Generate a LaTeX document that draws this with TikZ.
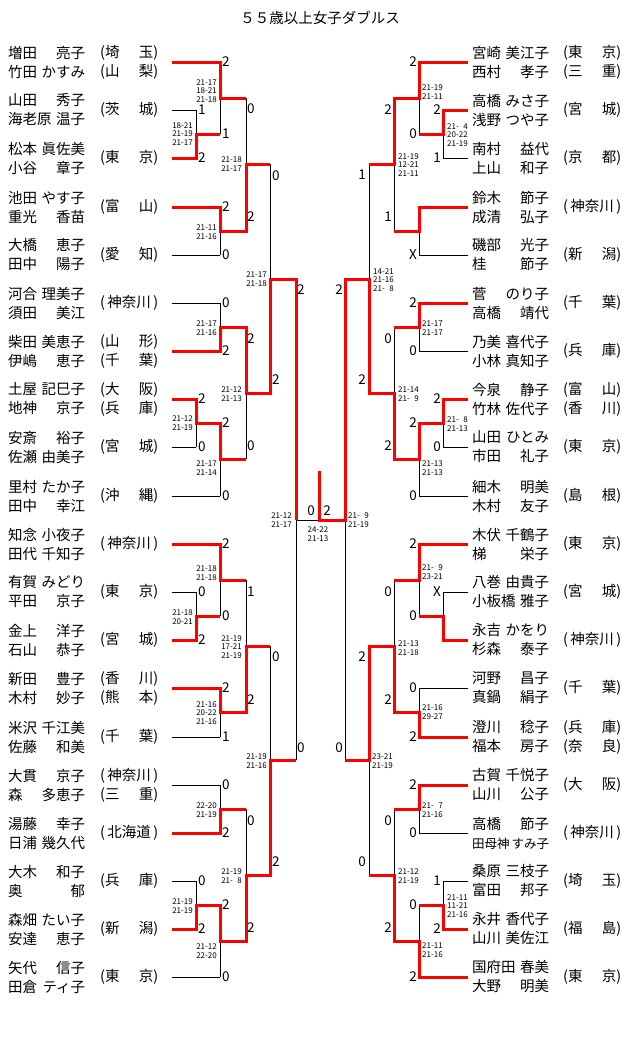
\documentclass[tikz,border=0pt]{standalone}
\usepackage{fontspec}
\setmainfont{Noto Sans CJK JP}
\newcommand\nmf[2]{\makebox[77pt]{#1\hfill#2}}
\newcommand\pff[2]{\makebox[58pt]{(#1\hfill#2)}}
\newcommand\pfw[1]{\makebox[58pt]{(\hfill#1\hfill)}}
\begin{document}
\begin{tikzpicture}[x=1pt, y=-1pt,
	lose/.style={line width=0.8pt},
	win/.style={red, line width=3pt},
	team/.style={font=\fontsize{14.5}{19}\selectfont, align=left, inner sep=0pt, anchor=west},
	sc/.style={font=\fontsize{13.5}{13.5}\selectfont, inner sep=0pt},
	gm/.style={font=\fontsize{8}{8.6}\selectfont, align=left, inner sep=0pt}]
	\useasboundingbox (0,0) rectangle (640,1061);
	\node[font=\fontsize{14.5}{14.5}\selectfont, inner sep=0pt] (title) at (320,18) {５５歳以上女子ダブルス};
	% left teams
	\node[team] (ln1) at (8,62) {\nmf{増田}{亮子}\\\nmf{竹田}{かすみ}};
	\node[team] (lp1) at (100,62) {\pff{埼}{玉}\\\pff{山}{梨}};
	\node[team] (ln2) at (8,110) {\nmf{山田}{秀子}\\\nmf{海老原}{温子}};
	\node[team] (lp2) at (100,110) {\pff{茨}{城}};
	\node[team] (ln3) at (8,158) {\nmf{松本}{眞佐美}\\\nmf{小谷}{章子}};
	\node[team] (lp3) at (100,158) {\pff{東}{京}};
	\node[team] (ln4) at (8,207) {\nmf{池田}{やす子}\\\nmf{重光}{香苗}};
	\node[team] (lp4) at (100,207) {\pff{富}{山}};
	\node[team] (ln5) at (8,255) {\nmf{大橋}{恵子}\\\nmf{田中}{陽子}};
	\node[team] (lp5) at (100,255) {\pff{愛}{知}};
	\node[team] (ln6) at (8,303) {\nmf{河合}{理美子}\\\nmf{須田}{美江}};
	\node[team] (lp6) at (100,303) {\pfw{神奈川}};
	\node[team] (ln7) at (8,351) {\nmf{柴田}{美恵子}\\\nmf{伊嶋}{恵子}};
	\node[team] (lp7) at (100,351) {\pff{山}{形}\\\pff{千}{葉}};
	\node[team] (ln8) at (8,399) {\nmf{土屋}{記巳子}\\\nmf{地神}{京子}};
	\node[team] (lp8) at (100,399) {\pff{大}{阪}\\\pff{兵}{庫}};
	\node[team] (ln9) at (8,447) {\nmf{安斎}{裕子}\\\nmf{佐瀬}{由美子}};
	\node[team] (lp9) at (100,447) {\pff{宮}{城}};
	\node[team] (ln10) at (8,496) {\nmf{里村}{たか子}\\\nmf{田中}{幸江}};
	\node[team] (lp10) at (100,496) {\pff{沖}{縄}};
	\node[team] (ln11) at (8,544) {\nmf{知念}{小夜子}\\\nmf{田代}{千知子}};
	\node[team] (lp11) at (100,544) {\pfw{神奈川}};
	\node[team] (ln12) at (8,592) {\nmf{有賀}{みどり}\\\nmf{平田}{京子}};
	\node[team] (lp12) at (100,592) {\pff{東}{京}};
	\node[team] (ln13) at (8,640) {\nmf{金上}{洋子}\\\nmf{石山}{恭子}};
	\node[team] (lp13) at (100,640) {\pff{宮}{城}};
	\node[team] (ln14) at (8,688) {\nmf{新田}{豊子}\\\nmf{木村}{妙子}};
	\node[team] (lp14) at (100,688) {\pff{香}{川}\\\pff{熊}{本}};
	\node[team] (ln15) at (8,737) {\nmf{米沢}{千江美}\\\nmf{佐藤}{和美}};
	\node[team] (lp15) at (100,737) {\pff{千}{葉}};
	\node[team] (ln16) at (8,785) {\nmf{大貫}{京子}\\\nmf{森}{多恵子}};
	\node[team] (lp16) at (100,785) {\pfw{神奈川}\\\pff{三}{重}};
	\node[team] (ln17) at (8,833) {\nmf{湯藤}{幸子}\\\nmf{日浦}{幾久代}};
	\node[team] (lp17) at (100,833) {\pfw{北海道}};
	\node[team] (ln18) at (8,881) {\nmf{大木}{和子}\\\nmf{奥}{郁}};
	\node[team] (lp18) at (100,881) {\pff{兵}{庫}};
	\node[team] (ln19) at (8,929) {\nmf{森畑}{たい子}\\\nmf{安達}{恵子}};
	\node[team] (lp19) at (100,929) {\pff{新}{潟}};
	\node[team] (ln20) at (8,977) {\nmf{矢代}{信子}\\\nmf{田倉}{ティ子}};
	\node[team] (lp20) at (100,977) {\pff{東}{京}};
	% right teams
	\node[team] (rn1) at (472,62) {\nmf{宮崎}{美江子}\\\nmf{西村}{孝子}};
	\node[team] (rp1) at (563,62) {\pff{東}{京}\\\pff{三}{重}};
	\node[team] (rn2) at (472,110) {\nmf{高橋}{みさ子}\\\nmf{浅野}{つや子}};
	\node[team] (rp2) at (563,110) {\pff{宮}{城}};
	\node[team] (rn3) at (472,158) {\nmf{南村}{益代}\\\nmf{上山}{和子}};
	\node[team] (rp3) at (563,158) {\pff{京}{都}};
	\node[team] (rn4) at (472,207) {\nmf{鈴木}{節子}\\\nmf{成清}{弘子}};
	\node[team] (rp4) at (563,207) {\pfw{神奈川}};
	\node[team] (rn5) at (472,255) {\nmf{磯部}{光子}\\\nmf{桂}{節子}};
	\node[team] (rp5) at (563,255) {\pff{新}{潟}};
	\node[team] (rn6) at (472,303) {\nmf{菅}{のり子}\\\nmf{高橋}{靖代}};
	\node[team] (rp6) at (563,303) {\pff{千}{葉}};
	\node[team] (rn7) at (472,351) {\nmf{乃美}{喜代子}\\\nmf{小林}{真知子}};
	\node[team] (rp7) at (563,351) {\pff{兵}{庫}};
	\node[team] (rn8) at (472,399) {\nmf{今泉}{静子}\\\nmf{竹林}{佐代子}};
	\node[team] (rp8) at (563,399) {\pff{富}{山}\\\pff{香}{川}};
	\node[team] (rn9) at (472,447) {\nmf{山田}{ひとみ}\\\nmf{市田}{礼子}};
	\node[team] (rp9) at (563,447) {\pff{東}{京}};
	\node[team] (rn10) at (472,496) {\nmf{細木}{明美}\\\nmf{木村}{友子}};
	\node[team] (rp10) at (563,496) {\pff{島}{根}};
	\node[team] (rn11) at (472,544) {\nmf{木伏}{千鶴子}\\\nmf{梯}{栄子}};
	\node[team] (rp11) at (563,544) {\pff{東}{京}};
	\node[team] (rn12) at (472,592) {\nmf{八巻}{由貴子}\\\nmf{小板橋}{雅子}};
	\node[team] (rp12) at (563,592) {\pff{宮}{城}};
	\node[team] (rn13) at (472,640) {\nmf{永吉}{かをり}\\\nmf{杉森}{泰子}};
	\node[team] (rp13) at (563,640) {\pfw{神奈川}};
	\node[team] (rn14) at (472,688) {\nmf{河野}{昌子}\\\nmf{真鍋}{絹子}};
	\node[team] (rp14) at (563,688) {\pff{千}{葉}};
	\node[team] (rn15) at (472,737) {\nmf{澄川}{稔子}\\\nmf{福本}{房子}};
	\node[team] (rp15) at (563,737) {\pff{兵}{庫}\\\pff{奈}{良}};
	\node[team] (rn16) at (472,785) {\nmf{古賀}{千悦子}\\\nmf{山川}{公子}};
	\node[team] (rp16) at (563,785) {\pff{大}{阪}};
	\node[team] (rn17) at (472,833) {\nmf{高橋}{節子}\\{\fontsize{12.5}{19}\selectfont\nmf{田母神}{すみ子}}};
	\node[team] (rp17) at (563,833) {\pfw{神奈川}};
	\node[team] (rn18) at (472,881) {\nmf{桑原}{三枝子}\\\nmf{富田}{邦子}};
	\node[team] (rp18) at (563,881) {\pff{埼}{玉}};
	\node[team] (rn19) at (472,929) {\nmf{永井}{香代子}\\\nmf{山川}{美佐江}};
	\node[team] (rp19) at (563,929) {\pff{福}{島}};
	\node[team] (rn20) at (472,977) {\nmf{国府田}{春美}\\\nmf{大野}{明美}};
	\node[team] (rp20) at (563,977) {\pff{東}{京}};
	% left bracket
	\draw[lose] (172,62)--(220,62) (172,110)--(196,110) (172,158)--(196,158) (172,207)--(220,207) (172,255)--(220,255);
	\draw[lose] (172,303)--(220,303) (172,351)--(220,351) (172,399)--(196,399) (172,447)--(196,447) (172,496)--(220,496);
	\draw[lose] (172,544)--(220,544) (172,592)--(196,592) (172,640)--(196,640) (172,688)--(220,688) (172,737)--(220,737);
	\draw[lose] (172,785)--(220,785) (172,833)--(220,833) (172,881)--(196,881) (172,929)--(196,929) (172,977)--(220,977);
	\draw[lose] (196,110)--(196,158) (196,399)--(196,447) (196,592)--(196,640) (196,881)--(196,929);
	\draw[lose] (220,62)--(220,134) (220,207)--(220,255) (220,303)--(220,351) (220,423)--(220,496);
	\draw[lose] (220,544)--(220,616) (220,688)--(220,737) (220,785)--(220,833) (220,905)--(220,977);
	\draw[lose] (246,98)--(246,231) (246,327)--(246,459) (246,580)--(246,712) (246,809)--(246,941);
	\draw[lose] (270,164)--(270,393) (270,646)--(270,875);
	\draw[lose] (296,279)--(296,760) (296,520)--(345,520) (345,279)--(345,760);
	% right bracket
	\draw[lose] (468,62)--(419,62) (468,110)--(443,110) (468,158)--(443,158) (468,207)--(419,207) (468,255)--(419,255);
	\draw[lose] (468,303)--(419,303) (468,351)--(419,351) (468,399)--(443,399) (468,447)--(443,447) (468,496)--(419,496);
	\draw[lose] (468,544)--(419,544) (468,592)--(443,592) (468,640)--(443,640) (468,688)--(419,688) (468,737)--(419,737);
	\draw[lose] (468,785)--(419,785) (468,833)--(419,833) (468,881)--(443,881) (468,929)--(443,929) (468,977)--(419,977);
	\draw[lose] (443,110)--(443,158) (443,399)--(443,447) (443,592)--(443,640) (443,881)--(443,929);
	\draw[lose] (419,62)--(419,134) (419,207)--(419,255) (419,303)--(419,351) (419,423)--(419,496);
	\draw[lose] (419,544)--(419,616) (419,688)--(419,737) (419,785)--(419,833) (419,905)--(419,977);
	\draw[lose] (394,98)--(394,231) (394,327)--(394,459) (394,580)--(394,712) (394,809)--(394,941);
	\draw[lose] (369,164)--(369,393) (369,646)--(369,875);
	% winners
	\draw[win] (172,62)--(220,62)--(220,98)--(246,98);
	\draw[win] (172,158)--(196,158)--(196,134)--(220,134);
	\draw[win] (172,207)--(220,207)--(220,231)--(246,231)--(246,164)--(270,164);
	\draw[win] (172,351)--(220,351)--(220,327)--(246,327)--(246,393)--(270,393)--(270,279)--(296,279)--(296,520);
	\draw[win] (172,399)--(196,399)--(196,423)--(220,423)--(220,459)--(246,459);
	\draw[win] (172,544)--(220,544)--(220,580)--(246,580);
	\draw[win] (172,640)--(196,640)--(196,616)--(220,616);
	\draw[win] (172,688)--(220,688)--(220,712)--(246,712)--(246,646)--(270,646);
	\draw[win] (172,833)--(220,833)--(220,809)--(246,809);
	\draw[win] (172,929)--(196,929)--(196,905)--(220,905)--(220,941)--(246,941)--(246,875)--(270,875)--(270,760)--(296,760);
	\draw[win] (468,62)--(419,62)--(419,98)--(394,98)--(394,164)--(369,164);
	\draw[win] (468,110)--(443,110)--(443,134)--(419,134);
	\draw[win] (468,207)--(419,207)--(419,231)--(394,231);
	\draw[win] (468,303)--(419,303)--(419,327)--(394,327);
	\draw[win] (468,399)--(443,399)--(443,423)--(419,423)--(419,459)--(394,459)--(394,393)--(369,393)--(369,279)--(345,279)--(345,520)--(319,520)--(319,471);
	\draw[win] (468,544)--(419,544)--(419,580)--(394,580);
	\draw[win] (468,640)--(443,640)--(443,616)--(419,616);
	\draw[win] (468,737)--(419,737)--(419,712)--(394,712)--(394,646)--(369,646)--(369,760)--(345,760);
	\draw[win] (468,785)--(419,785)--(419,809)--(394,809);
	\draw[win] (468,929)--(443,929)--(443,905)--(419,905);
	\draw[win] (468,977)--(419,977)--(419,941)--(394,941)--(394,875)--(369,875);
	% left scores
	\node[sc, anchor=west] (sl1) at (198,110) {1};
	\node[sc, anchor=west] (sl2) at (198,158) {2};
	\node[sc, anchor=west] (sl3) at (198,399) {2};
	\node[sc, anchor=west] (sl4) at (198,447) {0};
	\node[sc, anchor=west] (sl5) at (198,592) {0};
	\node[sc, anchor=west] (sl6) at (198,640) {2};
	\node[sc, anchor=west] (sl7) at (198,881) {0};
	\node[sc, anchor=west] (sl8) at (198,929) {2};
	\node[sc, anchor=west] (sl9) at (222,62) {2};
	\node[sc, anchor=west] (sl10) at (222,134) {1};
	\node[sc, anchor=west] (sl11) at (222,207) {2};
	\node[sc, anchor=west] (sl12) at (222,255) {0};
	\node[sc, anchor=west] (sl13) at (222,303) {0};
	\node[sc, anchor=west] (sl14) at (222,351) {2};
	\node[sc, anchor=west] (sl15) at (222,423) {2};
	\node[sc, anchor=west] (sl16) at (222,496) {0};
	\node[sc, anchor=west] (sl17) at (222,544) {2};
	\node[sc, anchor=west] (sl18) at (222,616) {0};
	\node[sc, anchor=west] (sl19) at (222,688) {2};
	\node[sc, anchor=west] (sl20) at (222,737) {1};
	\node[sc, anchor=west] (sl21) at (222,785) {0};
	\node[sc, anchor=west] (sl22) at (222,833) {2};
	\node[sc, anchor=west] (sl23) at (222,905) {2};
	\node[sc, anchor=west] (sl24) at (222,977) {0};
	\node[sc, anchor=west] (sl25) at (247,109) {0};
	\node[sc, anchor=west] (sl26) at (247,217) {2};
	\node[sc, anchor=west] (sl27) at (247,339) {2};
	\node[sc, anchor=west] (sl28) at (247,446) {0};
	\node[sc, anchor=west] (sl29) at (247,592) {1};
	\node[sc, anchor=west] (sl30) at (247,700) {2};
	\node[sc, anchor=west] (sl31) at (247,821) {0};
	\node[sc, anchor=west] (sl32) at (247,928) {2};
	\node[sc, anchor=west] (sl33) at (272,176) {0};
	\node[sc, anchor=west] (sl34) at (272,380) {2};
	\node[sc, anchor=west] (sl35) at (272,657) {0};
	\node[sc, anchor=west] (sl36) at (272,862) {2};
	\node[sc, anchor=west] (sl37) at (297,290) {2};
	\node[sc, anchor=west] (sl38) at (297,748) {0};
	% final
	\node[sc] (sf1) at (311,511) {0};
	\node[sc] (sf2) at (327,511) {2};
	% right scores
	\node[sc, anchor=east] (sr1) at (441,110) {2};
	\node[sc, anchor=east] (sr2) at (441,158) {1};
	\node[sc, anchor=east] (sr3) at (441,399) {2};
	\node[sc, anchor=east] (sr4) at (441,447) {0};
	\node[sc, anchor=east] (sr5) at (441,592) {X};
	\node[sc, anchor=east] (sr6) at (441,881) {1};
	\node[sc, anchor=east] (sr7) at (441,929) {2};
	\node[sc, anchor=east] (sr8) at (417,62) {2};
	\node[sc, anchor=east] (sr9) at (417,134) {0};
	\node[sc, anchor=east] (sr10) at (417,255) {X};
	\node[sc, anchor=east] (sr11) at (417,303) {2};
	\node[sc, anchor=east] (sr12) at (417,351) {0};
	\node[sc, anchor=east] (sr13) at (417,423) {2};
	\node[sc, anchor=east] (sr14) at (417,496) {0};
	\node[sc, anchor=east] (sr15) at (417,544) {2};
	\node[sc, anchor=east] (sr16) at (417,616) {0};
	\node[sc, anchor=east] (sr17) at (417,688) {0};
	\node[sc, anchor=east] (sr18) at (417,737) {2};
	\node[sc, anchor=east] (sr19) at (417,785) {2};
	\node[sc, anchor=east] (sr20) at (417,833) {0};
	\node[sc, anchor=east] (sr21) at (417,905) {0};
	\node[sc, anchor=east] (sr22) at (417,977) {2};
	\node[sc, anchor=east] (sr23) at (392,110) {2};
	\node[sc, anchor=east] (sr24) at (392,217) {1};
	\node[sc, anchor=east] (sr25) at (392,339) {0};
	\node[sc, anchor=east] (sr26) at (392,446) {2};
	\node[sc, anchor=east] (sr27) at (392,592) {0};
	\node[sc, anchor=east] (sr28) at (392,700) {2};
	\node[sc, anchor=east] (sr29) at (392,821) {0};
	\node[sc, anchor=east] (sr30) at (392,928) {2};
	\node[sc, anchor=east] (sr31) at (366,175) {1};
	\node[sc, anchor=east] (sr32) at (366,380) {2};
	\node[sc, anchor=east] (sr33) at (366,657) {2};
	\node[sc, anchor=east] (sr34) at (366,862) {0};
	\node[sc, anchor=east] (sr35) at (343,290) {2};
	\node[sc, anchor=east] (sr36) at (343,748) {0};
	% left game scores
	\node[gm, anchor=east] (gl1) at (193,134) {18-21\\21-19\\21-17};
	\node[gm, anchor=east] (gl2) at (217,91) {21-17\\18-21\\21-18};
	\node[gm, anchor=east] (gl3) at (217,232) {21-11\\21-16};
	\node[gm, anchor=east] (gl4) at (242,164) {21-18\\21-17};
	\node[gm, anchor=east] (gl5) at (217,328) {21-17\\21-16};
	\node[gm, anchor=east] (gl6) at (193,423) {21-12\\21-19};
	\node[gm, anchor=east] (gl7) at (217,468) {21-17\\21-14};
	\node[gm, anchor=east] (gl8) at (242,394) {21-12\\21-13};
	\node[gm, anchor=east] (gl9) at (267,279) {21-17\\21-18};
	\node[gm, anchor=east] (gl10) at (292,520) {21-12\\21-17};
	\node[gm, anchor=east] (gl11) at (217,573) {21-18\\21-18};
	\node[gm, anchor=east] (gl12) at (193,617) {21-18\\20-21};
	\node[gm, anchor=east] (gl13) at (242,647) {21-19\\17-21\\21-19};
	\node[gm, anchor=east] (gl14) at (217,713) {21-16\\20-22\\21-16};
	\node[gm, anchor=east] (gl15) at (267,761) {21-19\\21-16};
	\node[gm, anchor=east] (gl16) at (217,810) {22-20\\21-19};
	\node[gm, anchor=east] (gl17) at (242,876) {21-19\\21-\phantom{1}8};
	\node[gm, anchor=east] (gl18) at (193,906) {21-19\\21-19};
	\node[gm, anchor=east] (gl19) at (217,951) {21-12\\22-20};
	\node[gm] (gf) at (318,534) {24-22\\21-13};
	% right game scores
	\node[gm, anchor=west] (gr1) at (447,135) {21-\phantom{1}4\\20-22\\21-19};
	\node[gm, anchor=west] (gr2) at (422,92) {21-19\\21-11};
	\node[gm, anchor=west] (gr3) at (398,165) {21-19\\12-21\\21-11};
	\node[gm, anchor=west] (gr4) at (422,328) {21-17\\21-17};
	\node[gm, anchor=west] (gr5) at (447,424) {21-\phantom{1}8\\21-13};
	\node[gm, anchor=west] (gr6) at (422,468) {21-13\\21-13};
	\node[gm, anchor=west] (gr7) at (398,394) {21-14\\21-\phantom{1}9};
	\node[gm, anchor=west] (gr8) at (373,280) {14-21\\21-16\\21-\phantom{1}8};
	\node[gm, anchor=west] (gr9) at (348,520) {21-\phantom{1}9\\21-19};
	\node[gm, anchor=west] (gr10) at (422,572) {21-\phantom{1}9\\23-21};
	\node[gm, anchor=west] (gr11) at (422,712) {21-16\\29-27};
	\node[gm, anchor=west] (gr12) at (398,648) {21-13\\21-18};
	\node[gm, anchor=west] (gr13) at (372,761) {23-21\\21-19};
	\node[gm, anchor=west] (gr14) at (422,810) {21-\phantom{1}7\\21-16};
	\node[gm, anchor=west] (gr15) at (398,876) {21-12\\21-19};
	\node[gm, anchor=west] (gr16) at (447,906) {21-11\\11-21\\21-16};
	\node[gm, anchor=west] (gr17) at (422,950) {21-11\\21-16};
\end{tikzpicture}
\end{document}
